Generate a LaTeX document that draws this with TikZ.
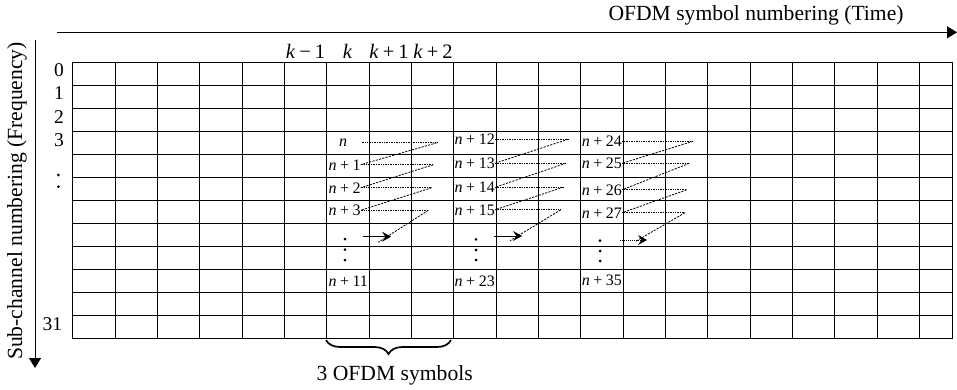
\documentclass[tikz,border=0pt]{standalone}
\usepackage{fontspec}
\setmainfont{Liberation Serif}
\usetikzlibrary{arrows.meta,decorations.pathreplacing}
\newcommand\nlab[1]{\textit{n}\hspace{0.22em}+\hspace{0.22em}#1}
\newcommand\klab[2]{\textit{k}\hspace{0.2em}#1\hspace{0.2em}#2}
\begin{document}
\begin{tikzpicture}[x=1pt,y=-1pt,
  gridline/.style={line width=0.9pt,black},
  axis/.style={line width=0.9pt,black,-{Triangle[length=10pt,width=12pt]}},
  mainlab/.style={font=\fontsize{21.6}{24}\selectfont,inner sep=0pt},
  rowlab/.style={font=\fontsize{19.5}{22}\selectfont,inner sep=0pt},
  collab/.style={font=\fontsize{20.5}{23}\selectfont,inner sep=0pt,anchor=base},
  cell/.style={font=\fontsize{16}{18}\selectfont,inner sep=0pt,anchor=base west},
  hline/.style={line width=0.8pt,dash pattern=on 0.9pt off 0.8pt},
  dline/.style={line width=0.8pt,dash pattern=on 2.2pt off 1.2pt},
  arrline/.style={line width=0.9pt,dash pattern=on 1.2pt off 0.8pt,-{Stealth[length=9pt,width=10pt,inset=3.5pt]}},
  dotmark/.style={fill=black,draw=none},
]
\useasboundingbox (0,0) rectangle (957,389);

% grid
\foreach \i in {0,...,20} \draw[gridline] ({72.7+42.33*\i},62.5) -- ({72.7+42.33*\i},338.5);
\draw[gridline] (952.7,62.5) -- (952.7,338.5);
\foreach \j in {0,...,12} \draw[gridline] (72.2,{62.5+23*\j}) -- (953.2,{62.5+23*\j});

% axes
\coordinate (ta0) at (57.3,32.3);
\coordinate (ta1) at (957,32.3);
\draw[axis] (ta0) -- (ta1);
\node[mainlab,anchor=base] (tlab) at (756,20.7) {OFDM symbol numbering (Time)};
\coordinate (la0) at (35,40);
\coordinate (la1) at (35,368);
\draw[axis] (la0) -- (la1);
\node[mainlab,anchor=base,rotate=90] (llab) at (22,201) {Sub-channel numbering (Frequency)};

% row labels
\node[rowlab] (r0) at (59,70) {0};
\node[rowlab] (r1) at (59,93.3) {1};
\node[rowlab] (r2) at (59,116.7) {2};
\node[rowlab] (r3) at (59,140) {3};
\fill[dotmark] (58.3,175) circle (1.5);
\fill[dotmark] (58.3,186.7) circle (1.5);
\node[rowlab] (r31) at (52.3,324) {31};

% column labels
\node[collab] (k1) at (305.5,58.3) {\klab{−}{1}};
\node[collab] (k2) at (347.5,58.3) {\textit{k}};
\node[collab] (k3) at (389,58.3) {\klab{+}{1}};
\node[collab] (k4) at (433,58.3) {\klab{+}{2}};

% group 1
\node[cell,anchor=base] (a0) at (343,146.5) {\textit{n}};
\node[cell] (a1) at (328.3,170) {\nlab{1}};
\node[cell] (a2) at (328.3,193) {\nlab{2}};
\node[cell] (a3) at (328.3,215.5) {\nlab{3}};
\node[cell] (a4) at (328.3,286.5) {\nlab{11}};
\coordinate (a0s) at (361.7,142.8);
\coordinate (a0e) at (436.7,142.8);
\coordinate (a1x) at (433.3,0);
\coordinate (a2x) at (431.7,0);
\coordinate (a3x) at (428.3,0);
\coordinate (af) at (378.3,242.3);
\coordinate (aas) at (363.3,236.7);
\coordinate (aat) at (391,236.7);
\draw[hline] (a0s) -- (a0e);
\draw[dline] (a0e) -- (a1.east);
\draw[hline] (a1.east) -- (a1.east -| a1x) coordinate (a1e);
\draw[dline] (a1e) -- (a2.east);
\draw[hline] (a2.east) -- (a2.east -| a2x) coordinate (a2e);
\draw[dline] (a2e) -- (a3.east);
\draw[hline] (a3.east) -- (a3.east -| a3x) coordinate (a3e);
\draw[dline] (a3e) -- (af);
\draw[arrline] (aas) -- (aat);
\foreach \y in {239,249.5,260} \fill[dotmark] (345,\y) circle (1.5);

% group 2
\node[cell] (b0) at (454.5,144.5) {\nlab{12}};
\node[cell] (b1) at (454.5,168.5) {\nlab{13}};
\node[cell] (b2) at (454.5,192.5) {\nlab{14}};
\node[cell] (b3) at (454.5,215) {\nlab{15}};
\node[cell] (b4) at (454.5,286.5) {\nlab{23}};
\coordinate (b0x) at (568.3,0);
\coordinate (b1x) at (566,0);
\coordinate (b2x) at (563.3,0);
\coordinate (b3x) at (560.7,0);
\coordinate (bf) at (510,240.7);
\coordinate (bas) at (494.3,236);
\coordinate (bat) at (522,236);
\draw[hline] (b0.east) -- (b0.east -| b0x) coordinate (b0e);
\draw[dline] (b0e) -- (b1.east);
\draw[hline] (b1.east) -- (b1.east -| b1x) coordinate (b1e);
\draw[dline] (b1e) -- (b2.east);
\draw[hline] (b2.east) -- (b2.east -| b2x) coordinate (b2e);
\draw[dline] (b2e) -- (b3.east);
\draw[hline] (b3.east) -- (b3.east -| b3x) coordinate (b3e);
\draw[dline] (b3e) -- (bf);
\draw[arrline] (bas) -- (bat);
\foreach \y in {239.3,250,260} \fill[dotmark] (476,\y) circle (1.5);

% group 3
\node[cell] (c0) at (581.7,146.5) {\nlab{24}};
\node[cell] (c1) at (581.7,168.5) {\nlab{25}};
\node[cell] (c2) at (581.7,195) {\nlab{26}};
\node[cell] (c3) at (581.7,218) {\nlab{27}};
\node[cell] (c4) at (581.7,285.5) {\nlab{35}};
\coordinate (c0x) at (693.3,0);
\coordinate (c1x) at (689.3,0);
\coordinate (c2x) at (686.7,0);
\coordinate (c3x) at (685,0);
\coordinate (cf) at (635,241.7);
\coordinate (cas) at (620,240);
\coordinate (cat) at (647,240);
\draw[hline] (c0.east) -- (c0.east -| c0x) coordinate (c0e);
\draw[dline] (c0e) -- (c1.east);
\draw[hline] (c1.east) -- (c1.east -| c1x) coordinate (c1e);
\draw[dline] (c1e) -- (c2.east);
\draw[hline] (c2.east) -- (c2.east -| c2x) coordinate (c2e);
\draw[dline] (c2e) -- (c3.east);
\draw[hline] (c3.east) -- (c3.east -| c3x) coordinate (c3e);
\draw[dline] (c3e) -- (cf);
\draw[arrline] (cas) -- (cat);
\foreach \y in {240.7,251,261} \fill[dotmark] (600,\y) circle (1.5);

% brace
\coordinate (br1) at (326,340);
\coordinate (br2) at (451,340);
\draw[line width=1.7pt,decorate,decoration={brace,mirror,amplitude=14pt}] (br1) -- (br2);
\node[mainlab,anchor=base] (blab) at (394.7,380) {3 OFDM symbols};
\end{tikzpicture}
\end{document}
